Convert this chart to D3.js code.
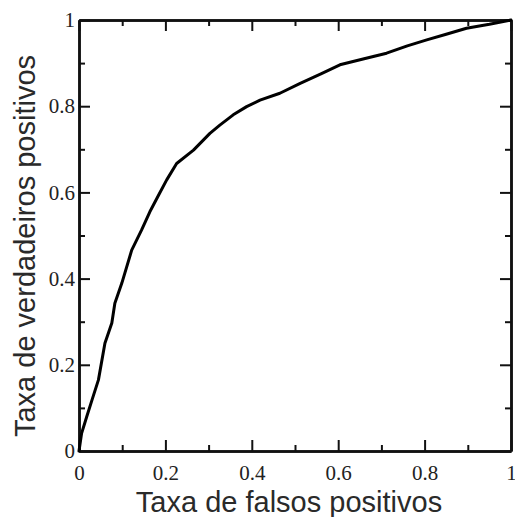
<!DOCTYPE html>
<html>
<head>
<meta charset="utf-8">
<script src="https://cdn.jsdelivr.net/npm/d3@7"></script>
<style>
  body { margin: 0; background: #fff; }
  svg { display: block; }
</style>
</head>
<body>
<div id="chart-area"></div>
<script>
// ROC curve
const fpr = [0, 0.006, 0.018, 0.03, 0.045, 0.06, 0.076, 0.083, 0.099, 0.122, 0.145, 0.164, 0.185,
  0.203, 0.226, 0.265, 0.303, 0.326, 0.357, 0.388, 0.419, 0.465, 0.512, 0.56, 0.604, 0.66,
  0.712, 0.76, 0.805, 0.85, 0.897, 0.95, 1];
const tpr = [0, 0.041, 0.08, 0.118, 0.165, 0.25, 0.297, 0.343, 0.389, 0.466, 0.513, 0.555, 0.595,
  0.629, 0.667, 0.698, 0.737, 0.756, 0.78, 0.799, 0.814, 0.83, 0.853, 0.875, 0.896, 0.91,
  0.923, 0.94, 0.954, 0.967, 0.981, 0.99, 1];

const majorTicks = [0, 0.2, 0.4, 0.6, 0.8, 1];
const minorTicks = [0.1, 0.3, 0.5, 0.7, 0.9];
const xTitle = "Taxa de falsos positivos";
const yTitle = "Taxa de verdadeiros positivos";

const width = 515, height = 517;
const margin = {top: 20, right: 4, bottom: 66, left: 79};

const svg = d3.select("#chart-area").append("svg")
    .attr("width", width)
    .attr("height", height);

const x = d3.scaleLinear()
    .domain([0, 1])
    .range([margin.left, width - margin.right]);

const y = d3.scaleLinear()
    .domain([0, 1])
    .range([height - margin.bottom, margin.top]);

const fmt = d => d3.format("")(d);
const serif = "'Liberation Serif', 'Times New Roman', 'DejaVu Serif', serif";

const styleAxis = g => {
  g.attr("font-family", serif).attr("font-size", 21);
  g.selectAll("path").attr("stroke", "#111").attr("stroke-width", 2.5);
  g.selectAll("line").attr("stroke", "#111").attr("stroke-width", 2);
  g.selectAll("text")
      .attr("fill", "#222")
      .style("font-family", serif)
      .style("font-size", "21px");
};

// minor ticks (all four sides)
svg.append("g").attr("transform", `translate(0,${y(0)})`)
    .call(d3.axisBottom(x).tickValues(minorTicks).tickSize(-6).tickSizeOuter(0).tickFormat(""))
    .call(styleAxis);
svg.append("g").attr("transform", `translate(0,${y(1)})`)
    .call(d3.axisTop(x).tickValues(minorTicks).tickSize(-6).tickSizeOuter(0).tickFormat(""))
    .call(styleAxis);
svg.append("g").attr("transform", `translate(${x(0)},0)`)
    .call(d3.axisLeft(y).tickValues(minorTicks).tickSize(-6).tickSizeOuter(0).tickFormat(""))
    .call(styleAxis);
svg.append("g").attr("transform", `translate(${x(1)},0)`)
    .call(d3.axisRight(y).tickValues(minorTicks).tickSize(-6).tickSizeOuter(0).tickFormat(""))
    .call(styleAxis);

// major ticks
svg.append("g").attr("transform", `translate(0,${y(0)})`)
    .call(d3.axisBottom(x).tickValues(majorTicks).tickSize(-11).tickSizeOuter(0)
      .tickPadding(14).tickFormat(fmt))
    .call(styleAxis);
svg.append("g").attr("transform", `translate(0,${y(1)})`)
    .call(d3.axisTop(x).tickValues(majorTicks).tickSize(-11).tickSizeOuter(0).tickFormat(""))
    .call(styleAxis);
svg.append("g").attr("transform", `translate(${x(0)},0)`)
    .call(d3.axisLeft(y).tickValues(majorTicks).tickSize(-11).tickSizeOuter(0)
      .tickPadding(4).tickFormat(fmt))
    .call(styleAxis);
svg.append("g").attr("transform", `translate(${x(1)},0)`)
    .call(d3.axisRight(y).tickValues(majorTicks).tickSize(-11).tickSizeOuter(0).tickFormat(""))
    .call(styleAxis);

// curve
const line = d3.line()
    .x((d, i) => x(fpr[i]))
    .y(d => y(d));

svg.append("path")
    .datum(tpr)
    .attr("fill", "none")
    .attr("stroke", "#000")
    .attr("stroke-width", 3)
    .attr("stroke-linejoin", "round")
    .attr("stroke-linecap", "round")
    .attr("d", line);

// axis titles
svg.append("text")
    .attr("x", 289)
    .attr("y", 512)
    .attr("text-anchor", "middle")
    .attr("fill", "#2a2a2a")
    .style("font-family", "'Liberation Sans', Arial, sans-serif")
    .style("font-size", "29px")
    .text(xTitle);

svg.append("text")
    .attr("transform", "translate(35,246) rotate(-90)")
    .attr("text-anchor", "middle")
    .attr("fill", "#2a2a2a")
    .style("font-family", "'Liberation Sans', Arial, sans-serif")
    .style("font-size", "29px")
    .text(yTitle);
</script>
</body>
</html>
